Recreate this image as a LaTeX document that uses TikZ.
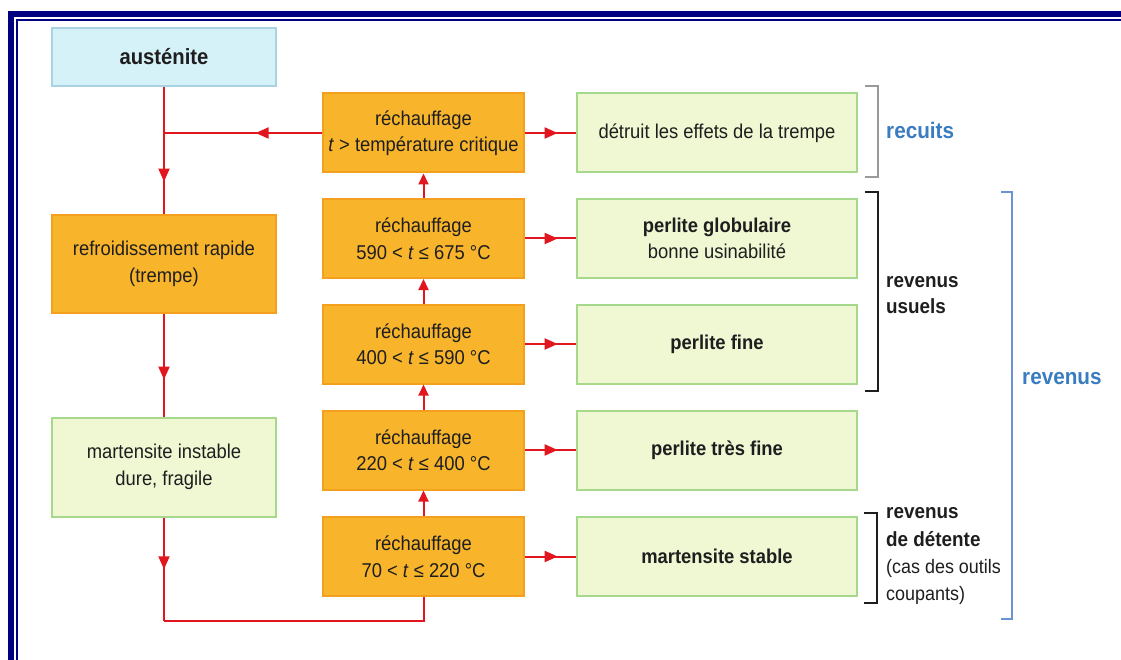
\documentclass[tikz,border=0pt]{standalone}
\usepackage{fontspec}
\setmainfont{Liberation Sans}[FakeStretch=0.92]
\usetikzlibrary{arrows.meta,decorations.markings}
\definecolor{navyb}{HTML}{000080}
\definecolor{orfill}{HTML}{F8B52C}
\definecolor{ordraw}{HTML}{F3A01E}
\definecolor{grfill}{HTML}{EFF7D3}
\definecolor{grdraw}{HTML}{A6D98C}
\definecolor{cyfill}{HTML}{D5F2F8}
\definecolor{cydraw}{HTML}{A9D3E3}
\definecolor{redl}{HTML}{E2161F}
\definecolor{bluet}{HTML}{3A7CC0}
\definecolor{bluel}{HTML}{6A93D6}
\definecolor{txt}{HTML}{1E1E1E}
\begin{document}
\begin{tikzpicture}[x=1pt,y=-1pt,
  box/.style={rectangle, inner sep=0pt, align=center, line width=2pt,
    font={\fontsize{20}{26.5}\selectfont}, text=txt},
  orbox/.style={box, fill=orfill, draw=ordraw, minimum width=201pt, minimum height=79pt},
  grbox/.style={box, fill=grfill, draw=grdraw, minimum width=280pt, minimum height=79pt},
  lgbox/.style={box, fill=grfill, draw=grdraw, minimum width=224pt, minimum height=99pt},
  lobox/.style={box, fill=orfill, draw=ordraw, minimum width=224pt, minimum height=98pt},
  cybox/.style={box, fill=cyfill, draw=cydraw, minimum width=224pt, minimum height=58pt,
    font={\fontsize{22}{26}\selectfont\bfseries}},
  conn/.style={draw=redl, line width=2pt},
  uparrow/.style={conn, -{Triangle[width=10pt,length=11pt]}},
  midarrow/.style={conn, postaction={decorate}, decoration={markings,
    mark=at position #1 with {\arrow[redl]{Triangle[width=11pt,length=13pt]}}}},
  brk/.style={line width=1.5pt, draw=#1},
  lbl/.style={anchor=west, inner sep=0pt, align=left, text=txt},
  lblb/.style={lbl, font={\fontsize{20.5}{26}\selectfont\bfseries}},
  lblr/.style={lbl, font={\fontsize{19.5}{27}\selectfont}},
  lblblue/.style={lbl, text=bluet, font={\fontsize{22.5}{26}\selectfont\bfseries}}
]
\useasboundingbox (0,0) rectangle (1121,660);
\fill[white] (0,0) rectangle (1121,660);
% frame
\fill[navyb] (8,11) rectangle (1121,17);
\fill[navyb] (8,11) rectangle (14,660);
\fill[navyb] (16,19) rectangle (1121,21);
\fill[navyb] (16,19) rectangle (18,660);

% left column
\node[cybox] (aust) at (164,57) {austénite};
\node[lobox] (refr) at (164,264) {refroidissement rapide\\(trempe)};
\node[lgbox] (mart) at (164,467) {martensite instable\\dure, fragile};

% orange column
\node[orbox] (crit) at (423.5,133) {réchauffage\\\textit{t} > température critique};
\node[orbox] (o1) at (423.5,238.5) {réchauffage\\590 < \textit{t} ≤ 675 °C};
\node[orbox] (o2) at (423.5,344) {réchauffage\\400 < \textit{t} ≤ 590 °C};
\node[orbox] (o3) at (423.5,450) {réchauffage\\220 < \textit{t} ≤ 400 °C};
\node[orbox] (o4) at (423.5,556.5) {réchauffage\\70 < \textit{t} ≤ 220 °C};

% green column
\node[grbox] (g0) at (717,133) {détruit les effets de la trempe};
\node[grbox] (g1) at (717,238.5) {\textbf{perlite globulaire}\\bonne usinabilité};
\node[grbox] (g2) at (717,344) {\textbf{perlite fine}};
\node[grbox] (g3) at (717,450) {\textbf{perlite très fine}};
\node[grbox] (g4) at (717,556.5) {\textbf{martensite stable}};

% junctions
\coordinate (j1) at (164,133);
\coordinate (j2) at (164,621);
\coordinate (j3) at (423.5,621);

% connectors
\draw[conn] (aust.south) -- (j1);
\draw[midarrow=0.6] (j1) -- (refr.north);
\draw[midarrow=0.42] (crit.west) -- (j1);
\draw[midarrow=0.64] (refr.south) -- (mart.north);
\draw[midarrow=0.5] (mart.south) -- (j2);
\draw[conn] (j2) -- (j3) -- (o4.south);
\draw[uparrow] (o4.north) -- (o3.south);
\draw[uparrow] (o3.north) -- (o2.south);
\draw[uparrow] (o2.north) -- (o1.south);
\draw[uparrow] (o1.north) -- (crit.south);
\draw[midarrow=0.64] (crit.east) -- (g0.west);
\draw[midarrow=0.64] (o1.east) -- (g1.west);
\draw[midarrow=0.64] (o2.east) -- (g2.west);
\draw[midarrow=0.64] (o3.east) -- (g3.west);
\draw[midarrow=0.64] (o4.east) -- (g4.west);

% brackets
\coordinate (b0a) at (865,86);  \coordinate (b0b) at (878,177);
\draw[brk=gray!80, line width=1.2pt] (b0a) -- (b0a -| b0b) -- (b0b) -- (b0b -| b0a);
\coordinate (b1a) at (865,192); \coordinate (b1b) at (878,391);
\draw[brk=txt] (b1a) -- (b1a -| b1b) -- (b1b) -- (b1b -| b1a);
\coordinate (b2a) at (864,513); \coordinate (b2b) at (877,603);
\draw[brk=txt] (b2a) -- (b2a -| b2b) -- (b2b) -- (b2b -| b2a);
\coordinate (b3a) at (1001,192); \coordinate (b3b) at (1012,619);
\draw[brk=bluel, line width=1.2pt] (b3a) -- (b3a -| b3b) -- (b3b) -- (b3b -| b3a);

% bracket labels
\node[lblblue] (trecuits) at (886,130) {recuits};
\node[lblb] (tusuels) at (886,295) {revenus\\usuels};
\node[lblblue] (trevenus) at (1022,379) {revenus};
\node[lblb] (tdet1) at (886,513) {revenus};
\node[lblb] (tdet2) at (886,539) {de détente};
\node[lblr] (tdet3) at (886,568) {(cas des outils};
\node[lblr] (tdet4) at (886,595) {coupants)};
\end{tikzpicture}
\end{document}
